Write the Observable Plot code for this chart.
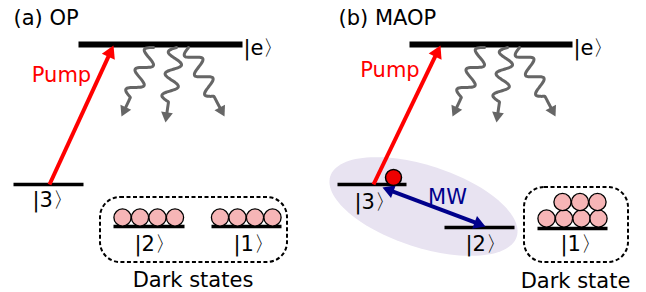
<!DOCTYPE html>
<html>
<head>
<meta charset="utf-8">
<script src="https://cdn.jsdelivr.net/npm/d3@7"></script>
<script src="https://cdn.jsdelivr.net/npm/@observablehq/plot@0.6"></script>
<style>
  html, body { margin: 0; padding: 0; background: #fff; }
  svg { display: block; }
</style>
</head>
<body>
<script>
// ---- Diagram data (diagram units = the 646 x 292 canvas) ----
const panelTitles = [
  {label: "(a) OP", x: 13, y: 17.5},
  {label: "(b) MAOP", x: 338, y: 17.5}
];
const excitedLevels = [
  {x1: 78, x2: 242, y: 44},
  {x1: 409, x2: 572, y: 44}
];
const groundLevels = [
  {x1: 13, x2: 83, y: 184},   // (a) |3>
  {x1: 113, x2: 184, y: 226}, // (a) |2>
  {x1: 211, x2: 281, y: 226}, // (a) |1>
  {x1: 337, x2: 406, y: 184}, // (b) |3>
  {x1: 444, x2: 514, y: 227}, // (b) |2>
  {x1: 537, x2: 607, y: 228}  // (b) |1>
];
const stateLabels = [
  {label: "|e〉", x: 243, y: 48},
  {label: "|e〉", x: 573, y: 48},
  {label: "|3〉", x: 32, y: 199.5},
  {label: "|2〉", x: 134, y: 243.5},
  {label: "|1〉", x: 233, y: 243.5},
  {label: "|3〉", x: 354, y: 201.5},
  {label: "|2〉", x: 465, y: 243.5},
  {label: "|1〉", x: 560, y: 243.5}
];
const darkLabels = [
  {label: "Dark states", x: 192.5, y: 280},
  {label: "Dark state", x: 575, y: 281}
];
const pumpArrows = [
  {x1: 49, y1: 184, x2: 113, y2: 45},
  {x1: 373, y1: 184, x2: 440, y2: 45}
];
const pumpLabels = [
  {label: "Pump", x: 61, y: 75},
  {label: "Pump", x: 389.5, y: 69.5}
];
const mwArrow = [{x1: 382, y1: 187, x2: 485, y2: 226}];
const mwLabel = [{label: "MW", x: 447, y: 196.5}];
const decays = [
  {id: "a1", x1: 153, y1: 47, x2: 121, y2: 116},
  {id: "a2", x1: 176, y1: 47, x2: 165, y2: 122},
  {id: "a3", x1: 188, y1: 47, x2: 224, y2: 116},
  {id: "b1", x1: 484, y1: 47, x2: 452, y2: 116},
  {id: "b2", x1: 507, y1: 47, x2: 496, y2: 122},
  {id: "b3", x1: 519, y1: 47, x2: 555, y2: 116}
];
const darkBoxes = [
  {x1: 100, x2: 287, y1: 197, y2: 262},
  {x1: 524, x2: 628, y1: 187, y2: 262}
];
const atoms = [
  {x: 122, y: 217}, {x: 139.5, y: 217}, {x: 157, y: 217}, {x: 174.5, y: 217},
  {x: 219.5, y: 217}, {x: 237, y: 217}, {x: 254.5, y: 217}, {x: 272, y: 217},
  {x: 546, y: 218}, {x: 563.5, y: 218}, {x: 581, y: 218}, {x: 598, y: 218},
  {x: 562, y: 201.5}, {x: 579.5, y: 201.5}, {x: 597, y: 201.5}
];
const pumpedAtom = [{x: 393, y: 177}];
const coupling = {cx: 423, cy: 206, a: 98, b: 41, angle: 18};

// ---- Geometry helpers (derived shapes) ----
const TRI = 2.333; // height of d3 triangle / r
function head(x1, y1, x2, y2, r) {
  const dx = x2 - x1, dy = y2 - y1, L = Math.hypot(dx, dy);
  const ux = dx / L, uy = dy / L;
  return {
    x: x2 - ux * 1.555 * r, y: y2 - uy * 1.555 * r,
    rotate: Math.atan2(dx, -dy) * 180 / Math.PI,
    bx: x2 - ux * (TRI * r - 1), by: y2 - uy * (TRI * r - 1)
  };
}
const pumpR = 5.3, waveR = 4.4, mwR = 5;
const pumpHeads = pumpArrows.map(d => head(d.x1, d.y1, d.x2, d.y2, pumpR));
const pumpShafts = pumpArrows.map((d, i) => ({x1: d.x1, y1: d.y1, x2: pumpHeads[i].bx, y2: pumpHeads[i].by}));
const mw = mwArrow[0];
const mwHeads = [head(mw.x1, mw.y1, mw.x2, mw.y2, mwR), head(mw.x2, mw.y2, mw.x1, mw.y1, mwR)];
const mwShaft = [{x1: mwHeads[1].bx, y1: mwHeads[1].by, x2: mwHeads[0].bx, y2: mwHeads[0].by}];

const waveHeads = decays.map(d => head(d.x1, d.y1, d.x2, d.y2, waveR));
const wavePts = [];
decays.forEach((d, i) => {
  const h = waveHeads[i];
  const dx = h.bx - d.x1, dy = h.by - d.y1, L = Math.hypot(dx, dy);
  const ux = dx / L, uy = dy / L, nx = -uy, ny = ux;
  const lambda = 22, Lw = 2.5 * lambda, A = 7.5;
  const N = 80;
  for (let k = 0; k <= N; k++) {
    const s = k / N * L;
    const off = s < Lw ? A * Math.sin(2 * Math.PI * s / lambda) : 0;
    wavePts.push({id: d.id, x: d.x1 + ux * s + nx * off, y: d.y1 + uy * s + ny * off});
  }
});

const ellipsePts = d3.range(0, 360, 3).map(t => {
  const th = t * Math.PI / 180, ph = coupling.angle * Math.PI / 180;
  const ex = coupling.a * Math.cos(th), ey = coupling.b * Math.sin(th);
  return {x: coupling.cx + ex * Math.cos(ph) - ey * Math.sin(ph),
          y: coupling.cy + ex * Math.sin(ph) + ey * Math.cos(ph)};
});

const FS = 21;
const chart = Plot.plot({
  width: 646,
  height: 292,
  margin: 0,
  x: {domain: [0, 646], range: [0, 646], axis: null},
  y: {domain: [0, 292], range: [0, 292], axis: null},
  style: {fontFamily: "'DejaVu Sans', Verdana, sans-serif", background: "#fff", color: "#000"},
  marks: [
    Plot.line(ellipsePts, {x: "x", y: "y", curve: "linear-closed", fill: "#e8e3f1", stroke: "none"}),
    Plot.rect(darkBoxes, {x1: "x1", x2: "x2", y1: "y1", y2: "y2", rx: 20, ry: 20, fill: "none",
      stroke: "#000", strokeWidth: 2, strokeDasharray: "4,2.5"}),
    Plot.link(excitedLevels, {x1: "x1", x2: "x2", y1: "y", y2: "y", stroke: "#000", strokeWidth: 6}),
    Plot.link(groundLevels, {x1: "x1", x2: "x2", y1: "y", y2: "y", stroke: "#000", strokeWidth: 3.5}),
    Plot.line(wavePts, {x: "x", y: "y", z: "id", stroke: "#666", strokeWidth: 3, curve: "natural"}),
    Plot.dot(waveHeads, {x: "x", y: "y", rotate: "rotate", symbol: "triangle", r: waveR, fill: "#666", stroke: "none"}),
    Plot.link(pumpShafts, {x1: "x1", y1: "y1", x2: "x2", y2: "y2", stroke: "#ff0000", strokeWidth: 4}),
    Plot.dot(pumpHeads, {x: "x", y: "y", rotate: "rotate", symbol: "triangle", r: pumpR, fill: "#ff0000", stroke: "none"}),
    Plot.link(mwShaft, {x1: "x1", y1: "y1", x2: "x2", y2: "y2", stroke: "#00008b", strokeWidth: 4}),
    Plot.dot(mwHeads, {x: "x", y: "y", rotate: "rotate", symbol: "triangle", r: mwR, fill: "#00008b", stroke: "none"}),
    Plot.dot(atoms, {x: "x", y: "y", r: 8.6, fill: "#f6b5b6", stroke: "#000", strokeWidth: 1.3}),
    Plot.dot(pumpedAtom, {x: "x", y: "y", r: 8, fill: "#ee0000", stroke: "#000", strokeWidth: 1.5}),
    Plot.text(panelTitles, {x: "x", y: "y", text: "label", textAnchor: "start", fontSize: FS, fill: "#000"}),
    Plot.text(stateLabels, {x: "x", y: "y", text: "label", textAnchor: "start", fontSize: FS, fill: "#000"}),
    Plot.text(darkLabels, {x: "x", y: "y", text: "label", textAnchor: "middle", fontSize: FS, fill: "#000"}),
    Plot.text(pumpLabels, {x: "x", y: "y", text: "label", textAnchor: "middle", fontSize: FS, fill: "#ff0000"}),
    Plot.text(mwLabel, {x: "x", y: "y", text: "label", textAnchor: "middle", fontSize: FS, fill: "#00008b"})
  ]
});
document.body.appendChild(chart);
</script>
</body>
</html>
